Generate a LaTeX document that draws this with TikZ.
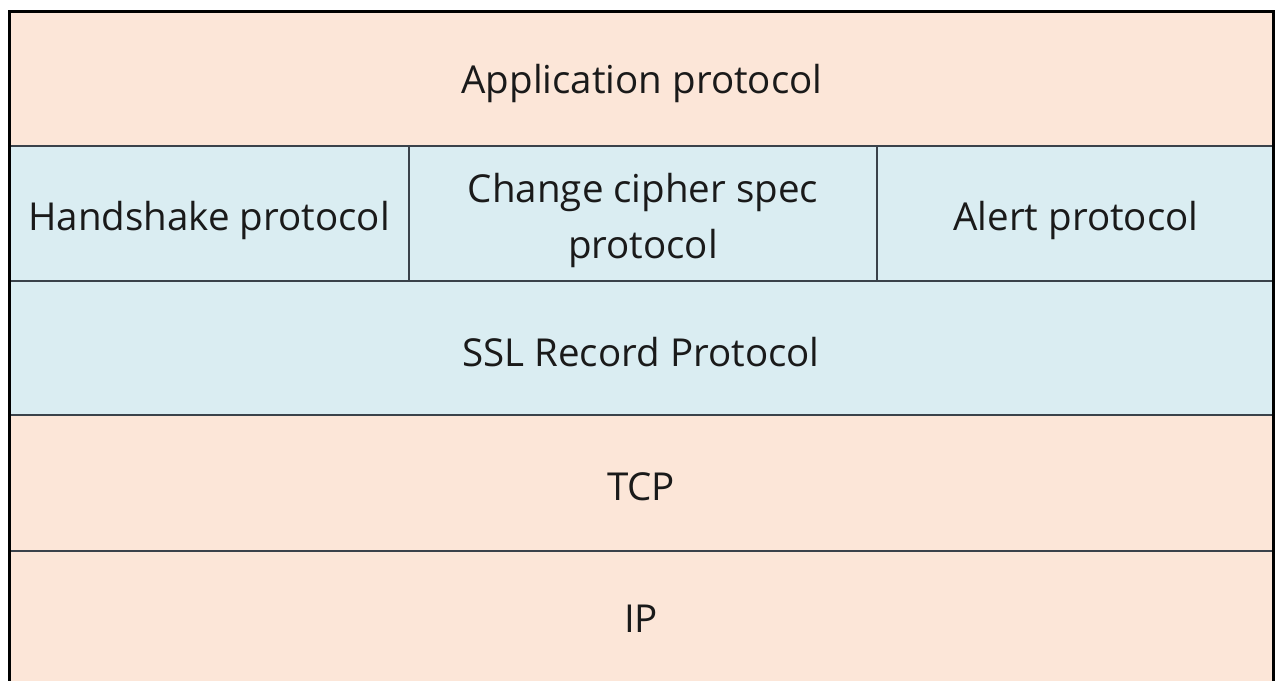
\documentclass[tikz,border=0pt]{standalone}
\usepackage{fontspec}
\setmainfont{Open Sans}
\begin{document}
\begin{tikzpicture}[x=1pt,y=-1pt,
  cell/.style={draw=gridline,line width=2pt},
  lbl/.style={text=labeltext,font=\fontsize{38.5}{56}\selectfont,align=center,inner sep=0pt}]
\definecolor{peach}{HTML}{FCE6D8}
\definecolor{paleblue}{HTML}{DAEDF2}
\definecolor{gridline}{HTML}{3A424A}
\definecolor{labeltext}{HTML}{1A1A1A}
\useasboundingbox (0,0) rectangle (1277,680);
% layer fills
\fill[peach] (10,11) rectangle (1273,146);
\fill[paleblue] (10,146) rectangle (1273,415);
\fill[peach] (10,415) rectangle (1273,684);
% separators
\draw[cell] (10,146) -- (1273,146);
\draw[cell] (10,281) -- (1273,281);
\draw[cell] (10,415) -- (1273,415);
\draw[cell] (10,551) -- (1273,551);
\draw[cell] (409,146) -- (409,281);
\draw[cell] (877,146) -- (877,281);
% outer frame
\draw[line width=3pt,black] (9.5,690) -- (9.5,11) -- (1273.5,11) -- (1273.5,690);
% labels
\node[lbl] (app) at (642,83) {Application protocol};
\node[lbl] (hs) at (209,220) {Handshake protocol};
\node[lbl] (ccs) at (643,220) {Change cipher spec\\protocol};
\node[lbl] (alert) at (1076,220) {Alert protocol};
\node[lbl] (rec) at (641,352) {SSL Record Protocol};
\node[lbl] (tcp) at (641,487) {TCP};
\node[lbl] (ip) at (641,619) {IP};
\end{tikzpicture}
\end{document}
